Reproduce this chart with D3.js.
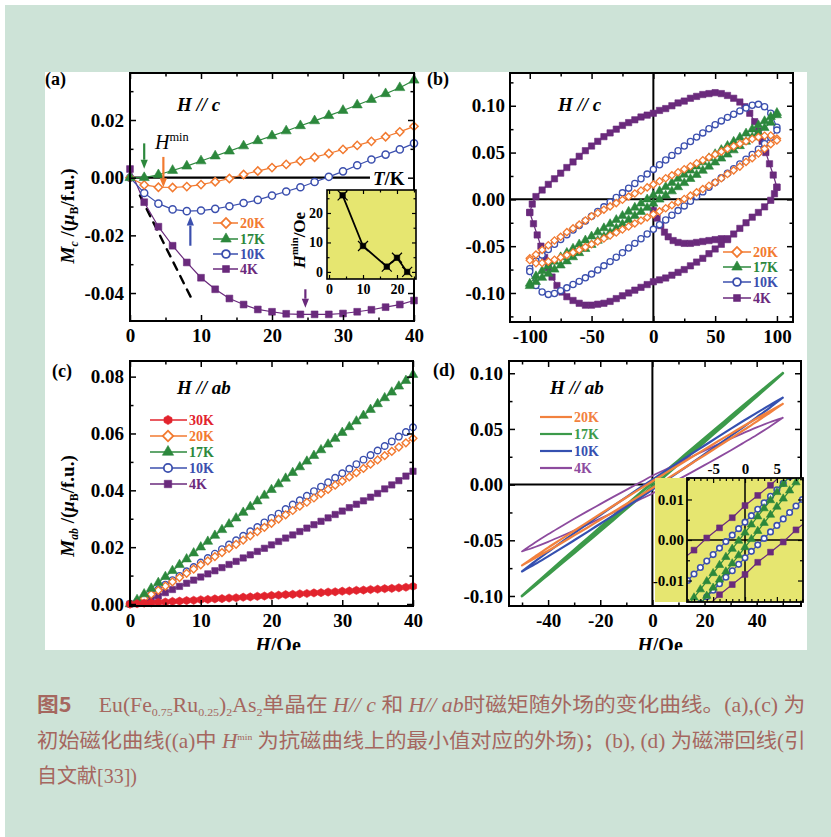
<!DOCTYPE html>
<html>
<head>
<meta charset="utf-8">
<script src="https://cdn.jsdelivr.net/npm/d3@7/dist/d3.min.js"></script>
<style>
  html, body { margin: 0; padding: 0; background: #fff; }
  svg { display: block; }
</style>
</head>
<body>
<svg id="fig" width="831" height="837"></svg>
<script>
// ================= data =================
// (a) initial magnetization, H // c  (field in Oe, M in muB/f.u.)
const fieldA = [0,2,4,6,8,10,12,14,16,18,20,22,24,26,28,30,32,34,36,38,40];
const mA20K = [0,-0.0025,-0.0033,-0.0034,-0.0031,-0.0024,-0.0014,-0.0003,0.0011,0.0023,0.0035,0.0046,0.0058,0.0071,0.0084,0.0098,0.0112,0.0126,0.0142,0.0159,0.0178];
const mA17K = [0,0.0000,0.0010,0.0025,0.0040,0.0058,0.0075,0.0092,0.0110,0.0128,0.0145,0.0162,0.0180,0.0197,0.0215,0.0233,0.0252,0.0271,0.0291,0.0312,0.0338];
const mA10K = [0,-0.0053,-0.0090,-0.0110,-0.0116,-0.0114,-0.0108,-0.0099,-0.0088,-0.0077,-0.0062,-0.0048,-0.0033,-0.0015,0.0003,0.0022,0.0043,0.0063,0.0080,0.0098,0.0119];
const mA4K  = [0.0030,-0.0085,-0.0170,-0.0236,-0.0294,-0.0347,-0.0387,-0.0419,-0.0440,-0.0457,-0.0465,-0.0472,-0.0474,-0.0474,-0.0474,-0.0471,-0.0465,-0.0458,-0.0449,-0.0440,-0.0426];
const tangentA = [[1.4,-0.0062],[8.8,-0.0426]];
// H^min markers: field, arrow start, arrow tip
const hminArrowField = [2.0, 4.7, 8.5, 24.7];
const hminArrowFrom  = [0.0119, 0.0072, -0.0236, -0.0387];
const hminArrowTo    = [0.0031, -0.0033, -0.0135, -0.0451];
const hminArrowSeries = ['17K','20K','10K','4K'];
// inset: H^min versus temperature
const hminT = [4, 10, 17, 20, 23];
const hminVal = [26, 8.8, 1.8, 4.8, 0];

// (b) hysteresis loops, H // c
const fieldB = [-100,-95,-90,-85,-80,-75,-70,-65,-60,-55,-50,-45,-40,-35,-30,-25,-20,-15,-10,-5,0,5,10,15,20,25,30,35,40,45,50,55,60,65,70,75,80,85,90,95,100];
const mB20Kdown = [-0.063,-0.059,-0.054,-0.049,-0.044,-0.040,-0.035,-0.031,-0.027,-0.0225,-0.018,-0.0145,-0.011,-0.0075,-0.004,-0.0005,0.003,0.0063,0.0095,0.0128,0.016,0.0193,0.0225,0.0257,0.029,0.0322,0.0354,0.0386,0.0418,0.045,0.048,0.051,0.054,0.0568,0.0595,0.062,0.0645,0.0665,0.068,0.0683,0.065];
const mB20Kup   = [-0.065,-0.0683,-0.068,-0.0665,-0.0645,-0.062,-0.0595,-0.0568,-0.054,-0.051,-0.048,-0.045,-0.0418,-0.0386,-0.0354,-0.0322,-0.029,-0.0257,-0.0225,-0.0193,-0.016,-0.0128,-0.0095,-0.0063,-0.003,0.0005,0.004,0.0075,0.011,0.0145,0.018,0.0225,0.027,0.031,0.035,0.040,0.044,0.049,0.054,0.059,0.063];
const mB17Kdown = [-0.090,-0.082,-0.0763,-0.0712,-0.0664,-0.0617,-0.057,-0.0525,-0.048,-0.0437,-0.0395,-0.0351,-0.0307,-0.0263,-0.0219,-0.0175,-0.0131,-0.0087,-0.0043,0.0001,0.0045,0.0089,0.0133,0.0177,0.0221,0.0265,0.0309,0.0353,0.0397,0.0441,0.0485,0.0529,0.0573,0.0617,0.0661,0.0705,0.0749,0.0793,0.0837,0.0881,0.0925];
const mB17Kup   = [-0.0925,-0.0881,-0.0837,-0.0793,-0.0749,-0.0705,-0.0661,-0.0617,-0.0573,-0.0529,-0.0485,-0.0441,-0.0397,-0.0353,-0.0309,-0.0265,-0.0221,-0.0177,-0.0133,-0.0089,-0.0045,-0.0001,0.0043,0.0087,0.0131,0.0175,0.0219,0.0263,0.0307,0.0351,0.0395,0.0437,0.048,0.0525,0.057,0.0617,0.0664,0.0712,0.0763,0.082,0.090];
const mB10Kdown = [-0.074,-0.066,-0.0595,-0.0535,-0.048,-0.0428,-0.0378,-0.0328,-0.0279,-0.023,-0.018,-0.013,-0.008,-0.003,0.002,0.007,0.012,0.017,0.022,0.027,0.032,0.037,0.042,0.047,0.052,0.057,0.0618,0.0665,0.071,0.0755,0.0798,0.0838,0.0876,0.091,0.0945,0.0975,0.1005,0.1015,0.099,0.092,0.077];
const mB10Kup   = [-0.077,-0.092,-0.099,-0.1015,-0.1005,-0.0975,-0.0945,-0.091,-0.0876,-0.0838,-0.0798,-0.0755,-0.071,-0.0665,-0.0618,-0.057,-0.052,-0.047,-0.042,-0.037,-0.032,-0.027,-0.022,-0.017,-0.012,-0.007,-0.002,0.003,0.008,0.013,0.018,0.023,0.0279,0.0328,0.0378,0.0428,0.048,0.0535,0.0595,0.066,0.074];
// 4 K loop as (H, M) pairs: left tip -> top -> right tip, then right tip -> bottom -> left tip
const loopB4Kupper = [[-100,-0.014],[-98,-0.005],[-95,0.003],[-90,0.010],[-85,0.016],[-80,0.022],[-75,0.028],[-70,0.034],[-65,0.040],[-60,0.046],[-55,0.052],[-50,0.057],[-45,0.062],[-40,0.067],[-35,0.071],[-30,0.075],[-25,0.079],[-20,0.082],[-15,0.085],[-10,0.088],[-5,0.090],[0,0.092],[5,0.095],[10,0.097],[15,0.100],[20,0.103],[25,0.105],[30,0.108],[35,0.110],[40,0.112],[45,0.113],[50,0.114],[55,0.113],[60,0.111],[65,0.108],[70,0.104],[74,0.099],[78,0.092],[82,0.083],[85,0.073],[88,0.062],[91,0.050],[94,0.038],[97,0.026],[100,0.013]];
const loopB4Klower = [[100,0.013],[98,0.006],[95,-0.001],[90,-0.008],[85,-0.014],[80,-0.019],[75,-0.025],[70,-0.031],[65,-0.037],[60,-0.043],[55,-0.048],[50,-0.053],[45,-0.058],[40,-0.063],[35,-0.067],[30,-0.071],[25,-0.075],[20,-0.078],[15,-0.081],[10,-0.084],[5,-0.086],[0,-0.088],[-5,-0.091],[-10,-0.094],[-15,-0.097],[-20,-0.100],[-25,-0.103],[-30,-0.106],[-35,-0.109],[-40,-0.111],[-45,-0.112],[-50,-0.113],[-55,-0.113],[-60,-0.111],[-65,-0.108],[-70,-0.104],[-74,-0.099],[-78,-0.092],[-82,-0.083],[-85,-0.073],[-88,-0.062],[-91,-0.050],[-94,-0.038],[-97,-0.026],[-100,-0.014]];
const virginB4K = [[0,-0.012],[3,-0.020],[6,-0.028],[9,-0.035],[12,-0.040],[16,-0.044],[20,-0.046],[25,-0.047],[30,-0.047],[35,-0.046],[40,-0.045],[45,-0.044],[50,-0.043],[55,-0.042],[60,-0.042]];

// (c) initial magnetization, H // ab
const fieldC = [0,1,2,3,4,5,6,7,8,9,10,11,12,13,14,15,16,17,18,19,20,21,22,23,24,25,26,27,28,29,30,31,32,33,34,35,36,37,38,39,40];
const mC30K = [0,0.0001,0.0003,0.0004,0.0006,0.0007,0.0009,0.0010,0.0012,0.0013,0.0015,0.0016,0.0018,0.0019,0.0021,0.0022,0.0024,0.0025,0.0027,0.0028,0.0030,0.0031,0.0033,0.0034,0.0036,0.0037,0.0039,0.0040,0.0042,0.0043,0.0045,0.0046,0.0048,0.0049,0.0051,0.0052,0.0054,0.0055,0.0057,0.0059,0.0062];
const mC20K = [0,0.0008,0.0020,0.0034,0.0048,0.0063,0.0078,0.0093,0.0108,0.0123,0.0138,0.0152,0.0167,0.0181,0.0196,0.0210,0.0225,0.0240,0.0255,0.0270,0.0284,0.0299,0.0314,0.0329,0.0344,0.0358,0.0373,0.0388,0.0403,0.0418,0.0432,0.0447,0.0462,0.0477,0.0492,0.0507,0.0522,0.0537,0.0552,0.0567,0.0583];
const mC17K = [0,0.0015,0.0035,0.0055,0.0075,0.0096,0.0117,0.0138,0.0158,0.0179,0.0200,0.0220,0.0241,0.0261,0.0281,0.0302,0.0322,0.0342,0.0362,0.0382,0.0402,0.0422,0.0442,0.0462,0.0482,0.0502,0.0522,0.0542,0.0562,0.0582,0.0603,0.0623,0.0643,0.0663,0.0684,0.0704,0.0725,0.0745,0.0766,0.0786,0.0807];
const mC10K = [0,0.0008,0.0022,0.0037,0.0052,0.0068,0.0084,0.0099,0.0115,0.0130,0.0146,0.0162,0.0177,0.0193,0.0209,0.0224,0.0240,0.0256,0.0271,0.0287,0.0303,0.0318,0.0334,0.0350,0.0365,0.0381,0.0397,0.0413,0.0428,0.0444,0.0460,0.0476,0.0492,0.0508,0.0524,0.0540,0.0556,0.0572,0.0589,0.0605,0.0622];
const mC4K  = [0,0.0002,0.0008,0.0017,0.0028,0.0040,0.0051,0.0062,0.0073,0.0084,0.0095,0.0106,0.0117,0.0128,0.0139,0.0150,0.0162,0.0173,0.0185,0.0196,0.0208,0.0220,0.0232,0.0243,0.0255,0.0267,0.0279,0.0291,0.0303,0.0315,0.0327,0.0339,0.0351,0.0363,0.0376,0.0389,0.0405,0.0419,0.0434,0.0450,0.0467];

// (d) hysteresis loops, H // ab
const fieldD = [-50,-45,-40,-35,-30,-25,-20,-15,-10,-5,0,5,10,15,20,25,30,35,40,45,50];
const mD20Kdown = [-0.0725,-0.0645,-0.0566,-0.049,-0.0414,-0.0339,-0.0264,-0.019,-0.0116,-0.0043,0.003,0.0103,0.0174,0.0246,0.0316,0.0387,0.0456,0.0526,0.0594,0.066,0.0725];
const mD20Kup   = [-0.0725,-0.066,-0.0594,-0.0526,-0.0456,-0.0387,-0.0316,-0.0246,-0.0174,-0.0103,-0.003,0.0043,0.0116,0.019,0.0264,0.0339,0.0414,0.049,0.0566,0.0645,0.0725];
const mD17Kdown = [-0.1,-0.0895,-0.0792,-0.0689,-0.0587,-0.0486,-0.0384,-0.0283,-0.0183,-0.0082,0.0018,0.0118,0.0217,0.0317,0.0416,0.0514,0.0613,0.0711,0.0808,0.0905,0.1];
const mD17Kup   = [-0.1,-0.0905,-0.0808,-0.0711,-0.0613,-0.0514,-0.0416,-0.0317,-0.0217,-0.0118,-0.0018,0.0082,0.0183,0.0283,0.0384,0.0486,0.0587,0.0689,0.0792,0.0895,0.1];
const mD10Kdown = [-0.078,-0.069,-0.0604,-0.0519,-0.0436,-0.0354,-0.0273,-0.0192,-0.0112,-0.0033,0.0045,0.0123,0.02,0.0276,0.0351,0.0426,0.05,0.0573,0.0644,0.0714,0.078];
const mD10Kup   = [-0.078,-0.0714,-0.0644,-0.0573,-0.05,-0.0426,-0.0351,-0.0276,-0.02,-0.0123,-0.0045,0.0033,0.0112,0.0192,0.0273,0.0354,0.0436,0.0519,0.0604,0.069,0.078];
const mD4Kdown  = [-0.06,-0.052,-0.0446,-0.0376,-0.0307,-0.024,-0.0175,-0.011,-0.0047,0.0016,0.008,0.0136,0.0193,0.025,0.0305,0.036,0.0413,0.0464,0.0514,0.056,0.06];
const mD4Kup    = [-0.06,-0.056,-0.0514,-0.0464,-0.0413,-0.036,-0.0305,-0.025,-0.0193,-0.0136,-0.008,-0.0016,0.0047,0.011,0.0175,0.024,0.0307,0.0376,0.0446,0.052,0.06];
// (d) inset: low-field part of the loops
const fieldDi = [-10,-9,-8,-7,-6,-5,-4,-3,-2,-1,0,1,2,3,4,5,6,7,8,9,10];
const mDi17Kdown = [-0.0182,-0.0162,-0.0142,-0.0122,-0.0102,-0.0082,-0.0062,-0.0042,-0.0022,-0.0002,0.0018,0.0038,0.0058,0.0078,0.0098,0.0118,0.0138,0.0158,0.0178,0.0198,0.0218];
const mDi17Kup   = [-0.0218,-0.0198,-0.0178,-0.0158,-0.0138,-0.0118,-0.0098,-0.0078,-0.0058,-0.0038,-0.0018,0.0002,0.0022,0.0042,0.0062,0.0082,0.0102,0.0122,0.0142,0.0162,0.0182];
const mDi10Kdown = [-0.0116,-0.0100,-0.0084,-0.0068,-0.0052,-0.0036,-0.0020,-0.0004,0.0012,0.0028,0.0044,0.0060,0.0076,0.0092,0.0108,0.0124,0.0140,0.0156,0.0172,0.0188,0.0204];
const mDi10Kup   = [-0.0204,-0.0188,-0.0172,-0.0156,-0.0140,-0.0124,-0.0108,-0.0092,-0.0076,-0.0060,-0.0044,-0.0028,-0.0012,0.0004,0.0020,0.0036,0.0052,0.0068,0.0084,0.0100,0.0116];
const fieldDi4 = [-10,-8,-6,-4,-2,0,2,4,6,8,10];
const mDi4Kdown = [-0.0050,-0.0025,0.0005,0.0030,0.0055,0.0085,0.0110,0.0135,0.0165,0.0190,0.0215];
const mDi4Kup   = [-0.0215,-0.0190,-0.0165,-0.0135,-0.0110,-0.0085,-0.0055,-0.0030,-0.0005,0.0025,0.0050];

// tick values
const ticksA = {xMajor:[0,10,20,30,40], xMinor:[5,15,25,35], yMajor:[-0.04,-0.02,0,0.02], yMinor:[-0.03,-0.01,0.01,0.03]};
const ticksAi = {xMajor:[0,10,20], xMinor:[5,15,25], yMajor:[0,10,20], yMinor:[5,15,25]};
const ticksB = {xMajor:[-100,-50,0,50,100], xMinor:[-75,-25,25,75], yMajor:[-0.1,-0.05,0,0.05,0.1], yMinor:[-0.125,-0.075,-0.025,0.025,0.075,0.125]};
const ticksC = {xMajor:[0,10,20,30,40], xMinor:[5,15,25,35], yMajor:[0,0.02,0.04,0.06,0.08], yMinor:[0.01,0.03,0.05,0.07]};
const ticksD = {xMajor:[-40,-20,0,20,40], xMinor:[-50,-30,-10,10,30,50], yMajor:[-0.1,-0.05,0,0.05,0.1], yMinor:[-0.075,-0.025,0.025,0.075]};
const ticksDi = {xMajor:[-5,0,5], xMinor:[-9,-8,-7,-6,-4,-3,-2,-1,1,2,3,4,6,7,8,9], yMajor:[-0.01,0,0.01], yMinor:[-0.015,-0.005,0.005,0.015]};

// ================= drawing =================
const SERIF = "'Liberation Serif','Times New Roman',serif";
const CJK = "'Noto Sans CJK SC','Noto Sans',sans-serif";
const COL = {'30K':'#e2232d','20K':'#f27a30','17K':'#2c883c','10K':'#3b4fae','4K':'#6a2a7c'};
const COLD = {'20K':'#f2813e','17K':'#3c9a4a','10K':'#3550b0','4K':'#8d4b9e'};
const YELLOW = '#e6e670';
const KIND = {'30K':'hex','20K':'diamond','17K':'triangle','10K':'circle','4K':'square'};

const svg = d3.select('#fig');
svg.append('rect').attr('x',5).attr('y',5).attr('width',826).attr('height',832).attr('fill','#cde3d7');
svg.append('rect').attr('x',45).attr('y',72).attr('width',762).attr('height',578).attr('fill','#fff');
const defs = svg.append('defs');
defs.append('clipPath').attr('id','clipFig').append('rect').attr('x',45).attr('y',72).attr('width',762).attr('height',578);
const fig = svg.append('g').attr('clip-path','url(#clipFig)');

const hexagon = { draw(ctx, size) {
  const r = Math.sqrt(2 * size / (3 * Math.sqrt(3)));
  for (let i = 0; i < 6; i++) {
    const a = Math.PI / 3 * i + Math.PI / 6;
    if (i === 0) ctx.moveTo(r * Math.cos(a), r * Math.sin(a)); else ctx.lineTo(r * Math.cos(a), r * Math.sin(a));
  }
  ctx.closePath();
}};
const SYM = {
  diamond: {type: d3.symbolSquare, rot: 45, open: true},
  triangle: {type: d3.symbolTriangle, open: false},
  circle: {type: d3.symbolCircle, open: true},
  square: {type: d3.symbolSquare, open: false},
  hex: {type: hexagon, open: false}
};

function markers(g, pts, sx, sy, kind, size, color, sw) {
  const s = SYM[kind];
  const d = d3.symbol(s.type, size)();
  g.append('g').selectAll('path').data(pts).join('path')
    .attr('d', d)
    .attr('transform', p => `translate(${sx(p[0])},${sy(p[1])})` + (s.rot ? ` rotate(${s.rot})` : ''))
    .attr('fill', s.open ? '#fff' : color)
    .attr('stroke', color)
    .attr('stroke-width', s.open ? (sw || 1.4) : 0.6);
}
function curve(g, pts, sx, sy, color, width, dash, interp) {
  g.append('path').datum(pts)
    .attr('d', d3.line().x(p => sx(p[0])).y(p => sy(p[1])).curve(interp || d3.curveLinear))
    .attr('fill', 'none').attr('stroke', color).attr('stroke-width', width)
    .attr('stroke-linejoin', 'round').attr('stroke-linecap', 'round')
    .attr('stroke-dasharray', dash || null);
}
function loopPts(field, down, up) {
  return d3.zip(field, down).reverse().concat(d3.zip(field, up));
}

function frameAxes(g, sx, sy, t, o) {
  const [x0, x1] = sx.range(), [y1, y0] = sy.range();
  const none = () => '';
  const style = sel => {
    sel.select('.domain').remove();
    sel.selectAll('line').attr('stroke', '#000').attr('stroke-width', o.tw || 1.5);
    sel.selectAll('text').attr('font-family', SERIF).attr('font-weight', 'bold')
      .attr('font-size', o.fs).attr('fill', '#000');
  };
  const add = (axis, tr) => g.append('g').attr('transform', tr).call(axis).call(style);
  const M = o.major, m = o.minor;
  add(d3.axisBottom(sx).tickValues(t.xMajor).tickSizeInner(-M).tickSizeOuter(0).tickPadding(o.xPad).tickFormat(o.bottomLabels === false ? none : o.xFmt), `translate(0,${y1})`);
  add(d3.axisBottom(sx).tickValues(t.xMinor).tickSizeInner(-m).tickSizeOuter(0).tickFormat(none), `translate(0,${y1})`);
  add(d3.axisTop(sx).tickValues(t.xMajor).tickSizeInner(-M).tickSizeOuter(0).tickPadding(o.xPad).tickFormat(o.topLabels ? o.xFmt : none), `translate(0,${y0})`);
  add(d3.axisTop(sx).tickValues(t.xMinor).tickSizeInner(-m).tickSizeOuter(0).tickFormat(none), `translate(0,${y0})`);
  add(d3.axisLeft(sy).tickValues(t.yMajor).tickSizeInner(-M).tickSizeOuter(0).tickPadding(o.yPad).tickFormat(o.yFmt), `translate(${x0},0)`);
  add(d3.axisLeft(sy).tickValues(t.yMinor).tickSizeInner(-m).tickSizeOuter(0).tickFormat(none), `translate(${x0},0)`);
  add(d3.axisRight(sy).tickValues(t.yMajor).tickSizeInner(-M).tickSizeOuter(0).tickFormat(none), `translate(${x1},0)`);
  add(d3.axisRight(sy).tickValues(t.yMinor).tickSizeInner(-m).tickSizeOuter(0).tickFormat(none), `translate(${x1},0)`);
  g.append('rect').attr('x', x0).attr('y', y0).attr('width', x1 - x0).attr('height', y1 - y0)
    .attr('fill', 'none').attr('stroke', '#000').attr('stroke-width', o.fw || 2);
}

// text with italic / sub / sup runs
function rich(g, x, y, parts, o) {
  const t = g.append('text').attr('x', x).attr('y', y)
    .attr('font-family', o.family || SERIF).attr('font-size', o.size)
    .attr('font-weight', o.weight || 'bold').attr('fill', o.fill || '#000')
    .attr('text-anchor', o.anchor || 'start');
  if (o.transform) t.attr('transform', o.transform);
  let shift = 0;
  parts.forEach(p => {
    const ts = t.append('tspan').text(p.t);
    if (p.i) ts.attr('font-style', 'italic');
    if (p.f) ts.attr('font-family', p.f);
    if (p.w) ts.attr('font-weight', p.w);
    let target = 0;
    if (p.sub) { ts.attr('font-size', o.size * (p.scale || 0.62)); target = o.size * 0.22; }
    else if (p.sup) { ts.attr('font-size', o.size * (p.scale || 0.62)); target = -o.size * 0.4; }
    else if (p.size) ts.attr('font-size', p.size);
    if (target !== shift) { ts.attr('dy', target - shift); shift = target; }
  });
  return t;
}

function legend(g, items, o) {
  items.forEach((it, i) => {
    const y = o.ys[i];
    g.append('line').attr('x1', o.x0).attr('x2', o.x1).attr('y1', y).attr('y2', y)
      .attr('stroke', it.color).attr('stroke-width', o.lw || 1.5);
    if (it.kind) markers(g, [[0, 0]], () => o.mx, () => y, it.kind, o.ms, it.color, 1.8);
    g.append('text').attr('x', o.tx).attr('y', y).attr('dy', '0.35em').text(it.label)
      .attr('font-family', SERIF).attr('font-weight', 'bold').attr('font-size', o.fs || 14)
      .attr('fill', it.color);
  });
}

function arrow(g, x, yFrom, yTo, color) {
  const dir = Math.sign(yTo - yFrom), hl = 9, hw = 3.6;
  g.append('line').attr('x1', x).attr('x2', x).attr('y1', yFrom).attr('y2', yTo - dir * hl)
    .attr('stroke', color).attr('stroke-width', 2.2);
  g.append('path').attr('d', `M${x},${yTo}L${x - hw},${yTo - dir * hl}L${x + hw},${yTo - dir * hl}Z`).attr('fill', color);
}

const fmt2 = d => d.toFixed(2);
const fmt0 = d => String(d);
const AX = {fs: 19, major: 6, minor: 3.5, xPad: 8, yPad: 6, xFmt: fmt0, yFmt: fmt2};

// ---------- panel (a) ----------
{
  const x = d3.scaleLinear().domain([0, 40]).range([130, 414]);
  const y = d3.scaleLinear().domain([-0.0497, 0.0363]).range([321, 73]);
  const g = fig.append('g');
  const zeroEnd = 33.8;
  g.append('line').attr('x1', x(0)).attr('x2', x(zeroEnd)).attr('y1', y(0)).attr('y2', y(0))
    .attr('stroke', '#000').attr('stroke-width', 2.2);
  rich(g, x(zeroEnd) + 3, y(0) + 7, [{t: 'T', i: true}, {t: '/K'}], {size: 19});
  curve(g, tangentA, x, y, '#000', 2.4, '8,7');
  const series = [['4K', mA4K, 46], ['10K', mA10K, 40], ['20K', mA20K, 34], ['17K', mA17K, 44]];
  series.forEach(([k, m, sz]) => {
    const pts = d3.zip(fieldA, m);
    curve(g, pts, x, y, COL[k], 1.2);
    markers(g, pts, x, y, KIND[k], sz, COL[k], 1.5);
  });
  hminArrowField.forEach((h, i) => arrow(g, x(h), y(hminArrowFrom[i]), y(hminArrowTo[i]), COL[hminArrowSeries[i]]));
  rich(g, 155, 149, [{t: 'H', i: true, w: 'normal'}, {t: 'min', sup: true, w: 'normal'}], {size: 20, weight: 'normal'});
  rich(g, 177, 111, [{t: 'H // c', i: true}], {size: 19});
  frameAxes(g, x, y, ticksA, AX);
  legend(g, ['20K', '17K', '10K', '4K'].map(k => ({label: k, color: COL[k], kind: KIND[k]})),
    {x0: 213, x1: 238, mx: 226, tx: 240, ys: [223, 239, 254, 269], ms: 48, fs: 14});
  rich(g, 0, 0, [{t: 'M', i: true}, {t: 'c', i: true, sub: true}, {t: ' /('}, {t: 'μ', i: true}, {t: 'B', sub: true}, {t: '/f.u.)'}],
    {size: 19, anchor: 'middle', transform: 'translate(74,216) rotate(-90)'});

  // inset: H^min vs T
  const xi = d3.scaleLinear().domain([-0.6, 25.6]).range([327, 416]);
  const yi = d3.scaleLinear().domain([-2.4, 27.8]).range([279, 190]);
  const gi = g.append('g');
  gi.append('rect').attr('x', 327).attr('y', 190).attr('width', 89).attr('height', 89).attr('fill', YELLOW);
  const pts = d3.zip(hminT, hminVal);
  curve(gi, pts, xi, yi, '#000', 1.8);
  pts.forEach(p => {
    const cx = xi(p[0]), cy = yi(p[1]);
    gi.append('path').attr('d', `M${cx - 5},${cy - 5}L${cx + 5},${cy + 5}M${cx - 5},${cy + 5}L${cx + 5},${cy - 5}`)
      .attr('stroke', '#000').attr('stroke-width', 1.2);
  });
  markers(gi, pts, xi, yi, 'square', 30, '#000');
  frameAxes(gi, xi, yi, ticksAi, {fs: 14, major: 4, minor: 2.5, xPad: 5, yPad: 4, xFmt: fmt0, yFmt: fmt0, fw: 1.6, tw: 1.2});
  rich(gi, 0, 0, [{t: 'H', i: true}, {t: 'min', sup: true}, {t: '/Oe'}],
    {size: 17, anchor: 'middle', transform: 'translate(305,240) rotate(-90)'});
  g.append('text').attr('x', 45).attr('y', 85).text('(a)').attr('font-family', SERIF)
    .attr('font-weight', 'bold').attr('font-size', 18);
}

// ---------- panel (b) ----------
{
  const x = d3.scaleLinear().domain([-116, 113]).range([510, 793]);
  const y = d3.scaleLinear().domain([-0.131, 0.135]).range([322, 73]);
  const g = fig.append('g');
  g.append('line').attr('x1', x(0)).attr('x2', x(0)).attr('y1', 73).attr('y2', 322).attr('stroke', '#000').attr('stroke-width', 2);
  g.append('line').attr('x1', 510).attr('x2', 793).attr('y1', y(0)).attr('y2', y(0)).attr('stroke', '#000').attr('stroke-width', 2);
  const loop4 = loopB4Kupper.concat(loopB4Klower);
  curve(g, loop4, x, y, COL['4K'], 1.2);
  markers(g, loop4, x, y, 'square', 40, COL['4K']);
  curve(g, virginB4K, x, y, COL['4K'], 1.2);
  markers(g, virginB4K, x, y, 'square', 40, COL['4K']);
  [['10K', mB10Kdown, mB10Kup, 30], ['17K', mB17Kdown, mB17Kup, 36], ['20K', mB20Kdown, mB20Kup, 26]].forEach(([k, dn, up, sz]) => {
    const pts = loopPts(fieldB, dn, up);
    curve(g, pts, x, y, COL[k], 1.1);
    markers(g, pts, x, y, KIND[k], sz, COL[k], 1.3);
  });
  rich(g, 558, 111, [{t: 'H // c', i: true}], {size: 19});
  frameAxes(g, x, y, ticksB, {...AX, yPad: 5});
  legend(g, ['20K', '17K', '10K', '4K'].map(k => ({label: k, color: COL[k], kind: KIND[k]})),
    {x0: 723, x1: 751, mx: 737, tx: 753, ys: [252, 267, 282, 298], ms: 48, fs: 14});
  g.append('text').attr('x', 427).attr('y', 85).text('(b)').attr('font-family', SERIF)
    .attr('font-weight', 'bold').attr('font-size', 18);
}

// ---------- panel (c) ----------
{
  const x = d3.scaleLinear().domain([0, 40]).range([130, 413]);
  const y = d3.scaleLinear().domain([-0.0007, 0.0855]).range([606, 361]);
  const g = fig.append('g');
  [['4K', mC4K, 40], ['10K', mC10K, 34], ['20K', mC20K, 30], ['17K', mC17K, 40], ['30K', mC30K, 44]].forEach(([k, m, sz]) => {
    const pts = d3.zip(fieldC, m);
    curve(g, pts, x, y, COL[k], 1.1);
    markers(g, pts, x, y, KIND[k], sz, COL[k], 1.4);
  });
  rich(g, 177, 394, [{t: 'H // ab', i: true}], {size: 19});
  frameAxes(g, x, y, ticksC, AX);
  legend(g, ['30K', '20K', '17K', '10K', '4K'].map(k => ({label: k, color: COL[k], kind: KIND[k]})),
    {x0: 150, x1: 187, mx: 168, tx: 189, ys: [420, 436, 452, 468, 484], ms: 55, fs: 14});
  rich(g, 0, 0, [{t: 'M', i: true}, {t: 'ab', i: true, sub: true}, {t: ' /('}, {t: 'μ', i: true}, {t: 'B', sub: true}, {t: '/f.u.)'}],
    {size: 19, anchor: 'middle', transform: 'translate(74,506) rotate(-90)'});
  rich(g, 278, 652, [{t: 'H', i: true}, {t: '/Oe'}], {size: 20, anchor: 'middle'});
  g.append('text').attr('x', 52).attr('y', 377).text('(c)').attr('font-family', SERIF)
    .attr('font-weight', 'bold').attr('font-size', 18);
}

// ---------- panel (d) ----------
{
  const x = d3.scaleLinear().domain([-55, 57]).range([509, 801]);
  const y = d3.scaleLinear().domain([-0.109, 0.111]).range([606, 361]);
  const g = fig.append('g');
  g.append('line').attr('x1', x(0)).attr('x2', x(0)).attr('y1', 361).attr('y2', 606).attr('stroke', '#000').attr('stroke-width', 2);
  g.append('line').attr('x1', 509).attr('x2', 801).attr('y1', y(0)).attr('y2', y(0)).attr('stroke', '#000').attr('stroke-width', 2);
  [['17K', mD17Kdown, mD17Kup, 2.8], ['4K', mD4Kdown, mD4Kup, 1.8], ['10K', mD10Kdown, mD10Kup, 2.2], ['20K', mD20Kdown, mD20Kup, 2.2]].forEach(([k, dn, up, w]) => {
    curve(g, loopPts(fieldD, dn, up), x, y, COLD[k], w, null, d3.curveCatmullRom.alpha(0.5));
  });
  rich(g, 550, 394, [{t: 'H // ab', i: true}], {size: 19});
  frameAxes(g, x, y, ticksD, AX);
  legend(g, ['20K', '17K', '10K', '4K'].map(k => ({label: k, color: COLD[k]})),
    {x0: 540, x1: 572, tx: 574, ys: [417, 434, 451, 468], lw: 2.2, fs: 14});
  rich(g, 660, 652, [{t: 'H', i: true}, {t: '/Oe'}], {size: 20, anchor: 'middle'});
  g.append('text').attr('x', 433).attr('y', 376).text('(d)').attr('font-family', SERIF)
    .attr('font-weight', 'bold').attr('font-size', 18);

  // inset: low-field detail
  const xi = d3.scaleLinear().domain([-9.1, 9.1]).range([687, 803]);
  const yi = d3.scaleLinear().domain([-0.0153, 0.0153]).range([602, 478]);
  const gi = g.append('g');
  gi.append('rect').attr('x', 655).attr('y', 478).attr('width', 148).attr('height', 124).attr('fill', YELLOW);
  defs.append('clipPath').attr('id', 'clipDi').append('rect').attr('x', 687).attr('y', 478).attr('width', 116).attr('height', 124);
  const gd = gi.append('g').attr('clip-path', 'url(#clipDi)');
  gd.append('line').attr('x1', xi(0)).attr('x2', xi(0)).attr('y1', 478).attr('y2', 602).attr('stroke', '#000').attr('stroke-width', 1.5);
  gd.append('line').attr('x1', 687).attr('x2', 803).attr('y1', yi(0)).attr('y2', yi(0)).attr('stroke', '#000').attr('stroke-width', 1.5);
  const p4 = loopPts(fieldDi4, mDi4Kdown, mDi4Kup);
  curve(gd, p4, xi, yi, COL['4K'], 1.2);
  markers(gd, p4, xi, yi, 'square', 34, COL['4K']);
  const p10 = loopPts(fieldDi, mDi10Kdown, mDi10Kup);
  curve(gd, p10, xi, yi, COL['10K'], 1.2);
  markers(gd, p10, xi, yi, 'circle', 24, COL['10K'], 1.6);
  const p17 = loopPts(fieldDi, mDi17Kdown, mDi17Kup);
  curve(gd, p17, xi, yi, COL['17K'], 1.2);
  markers(gd, p17, xi, yi, 'triangle', 30, COL['17K']);
  frameAxes(gi, xi, yi, ticksDi, {fs: 15, major: 5, minor: 3, xPad: 4, yPad: 3, xFmt: fmt0, yFmt: fmt2, topLabels: true, bottomLabels: false, fw: 1.8, tw: 1.2});
}

// ---------- caption ----------
{
  const CAP = '#a5675f';
  const capLine = (y, parts, width) => {
    const t = rich(svg, 37, y, parts, {size: 20, weight: 'normal', fill: CAP, family: SERIF});
    if (width) {
      const w = t.node().getComputedTextLength();
      t.attr('transform', `translate(37,0) scale(${width / w},1) translate(-37,0)`);
    }
  };
  capLine(712, [
    {t: '图5', f: CJK, w: 'bold'}, {t: '\u2003 '}, {t: 'Eu(Fe'}, {t: '0.75', sub: true, scale: 0.55}, {t: 'Ru'},
    {t: '0.25', sub: true, scale: 0.55}, {t: ')'}, {t: '2', sub: true, scale: 0.55}, {t: 'As'}, {t: '2', sub: true, scale: 0.55},
    {t: '单晶在', f: CJK}, {t: ' H', i: true}, {t: '// c ', i: true}, {t: '和', f: CJK}, {t: ' H', i: true},
    {t: '// ab', i: true}, {t: '时磁矩随外场的变化曲线。', f: CJK}, {t: '(a),(c) '}, {t: '为', f: CJK}
  ], 769);
  capLine(748, [
    {t: '初始磁化曲线', f: CJK}, {t: '((a)'}, {t: '中', f: CJK}, {t: ' H', i: true}, {t: 'min', sup: true, scale: 0.45},
    {t: ' '}, {t: '为抗磁曲线上的最小值对应的外场', f: CJK}, {t: ')'}, {t: '；', f: CJK}, {t: '(b), (d) '},
    {t: '为磁滞回线', f: CJK}, {t: '('}, {t: '引', f: CJK}
  ], 769);
  capLine(783, [{t: '自文献', f: CJK}, {t: '[33])'}], null);
}
</script>
</body>
</html>
